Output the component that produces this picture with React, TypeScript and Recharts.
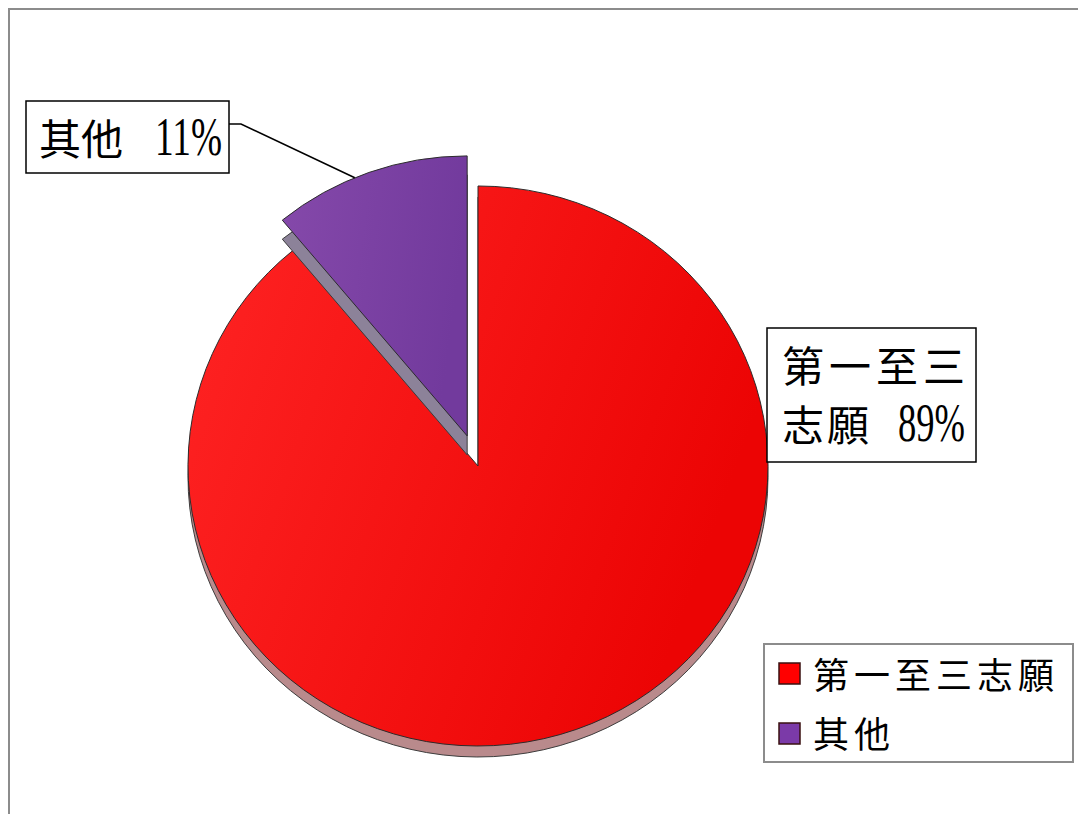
import { PieChart, Pie, Sector, Legend } from 'recharts';

// 資料
const categories = ['第一至三志願', '其他'];
const shares = [89, 11];
const pctLabels = ['89%', '11%'];
const topColors = ['url(#gradRed)', 'url(#gradPurple)'];
const sideColors = ['#b98a8c', '#8c8299'];
const legendColors = ['#ff0000', '#7b3aa8'];
const explode = [0, 32];
const depths = [11, 19];

const data = categories.map((name, i) => ({ name, value: shares[i] }));

const W = 1078;
const H = 814;
const RX = 290;
const RY = 280;
const K = RY / RX;
const RAD = Math.PI / 180;

const cjk = "'Noto Sans CJK TC', 'Noto Sans CJK SC', sans-serif";
const mixed = "'Liberation Serif', 'Noto Sans CJK TC', serif";

function Slice3D(props: any) {
  const { cx, cy, outerRadius, startAngle, endAngle, midAngle } = props;
  const i = props.index ?? categories.indexOf(props.name ?? props.payload?.name);
  const off = explode[i] ?? 0;
  const dx = off * Math.cos(midAngle * RAD);
  const dy = -off * Math.sin(midAngle * RAD);
  const squash = `translate(0, ${cy}) scale(1, ${K}) translate(0, ${-cy})`;
  return (
    <g transform={`translate(${dx}, ${dy})`}>
      <g transform={`translate(0, ${depths[i] ?? 11}) ${squash}`}>
        <Sector cx={cx} cy={cy} innerRadius={0} outerRadius={outerRadius}
          startAngle={startAngle} endAngle={endAngle}
          fill={sideColors[i]} stroke="#3a3a3a" strokeWidth={1} />
      </g>
      <g transform={squash}>
        <Sector cx={cx} cy={cy} innerRadius={0} outerRadius={outerRadius}
          startAngle={startAngle} endAngle={endAngle}
          fill={topColors[i]} stroke="#2a2a2a" strokeWidth={1} />
      </g>
    </g>
  );
}

function renderLabel(props: any) {
  const { cx, cy, midAngle, outerRadius } = props;
  const i = props.index ?? categories.indexOf(props.name);
  if (i === 1) {
    const off = explode[i];
    const a = (midAngle + 3) * RAD;
    const px = cx + off * Math.cos(midAngle * RAD) + outerRadius * Math.cos(a);
    const py = cy - off * Math.sin(midAngle * RAD) - outerRadius * K * Math.sin(a);
    return (
      <g>
        <polyline points={`229,124 241,124 ${px},${py}`} fill="none" stroke="#000" strokeWidth={1.5} />
        <rect x={26} y={101} width={203} height={72} fill="#fff" stroke="#000" strokeWidth={1.5} />
        <text x={39} y={155} fontFamily={mixed} fontSize={42} fill="#000">
          {categories[i]}
          <tspan x={155} fontSize={54} textLength={67} lengthAdjust="spacingAndGlyphs">{pctLabels[i]}</tspan>
        </text>
      </g>
    );
  }
  return (
    <g>
      <rect x={767} y={328} width={209} height={134} fill="#fff" stroke="#000" strokeWidth={1.5} />
      <text x={782} y={382} fontFamily={cjk} fontSize={42} letterSpacing={5} fill="#000">
        {categories[i].slice(0, 4)}
      </text>
      <text x={782} y={441} fontFamily={mixed} fontSize={42} fill="#000">
        <tspan letterSpacing={3}>{categories[i].slice(4)}</tspan>
        <tspan x={898} fontSize={54} textLength={67} lengthAdjust="spacingAndGlyphs">{pctLabels[i]}</tspan>
      </text>
    </g>
  );
}

function LegendBox() {
  return (
    <svg width={311} height={120} style={{ display: 'block' }}>
      <rect x={1} y={1} width={309} height={118} fill="#fff" stroke="#8c8c8c" strokeWidth={2} />
      {categories.map((c, i) => (
        <g key={c}>
          <rect x={16} y={20 + i * 60} width={21} height={21} fill={legendColors[i]} stroke="#3a1010" strokeWidth={1.5} />
          <text x={50} y={46 + i * 59} fontFamily={cjk} fontSize={36} letterSpacing={5} fill="#000">{c}</text>
        </g>
      ))}
    </svg>
  );
}

export default function App() {
  return (
    <div style={{ position: 'absolute', left: 0, top: 0, width: W, height: H, overflow: 'hidden', background: '#fff' }}>
      <div style={{ position: 'absolute', left: 8, top: 8, width: 1200, height: 1000, border: '2px solid #8c8c8c' }} />
      <div style={{ position: 'absolute', left: 0, top: 0 }}>
        <PieChart width={W} height={H} margin={{ top: 0, right: 0, bottom: 0, left: 0 }}>
          <defs>
            <linearGradient id="gradRed" x1="0" y1="0" x2="1" y2="0.35">
              <stop offset="0%" stopColor="#ff2424" />
              <stop offset="100%" stopColor="#ec0404" />
            </linearGradient>
            <linearGradient id="gradPurple" x1="0" y1="0" x2="1" y2="0.2">
              <stop offset="0%" stopColor="#8549aa" />
              <stop offset="100%" stopColor="#723a9d" />
            </linearGradient>
          </defs>
          <Pie
            data={data}
            dataKey="value"
            nameKey="name"
            cx={478}
            cy={466}
            outerRadius={RX}
            startAngle={90}
            endAngle={-270}
            stroke="none"
            shape={Slice3D}
            activeShape={Slice3D}
            inactiveShape={Slice3D}
            label={renderLabel}
            labelLine={false}
            isAnimationActive={false}
          />
          <Legend
            layout="vertical"
            align="right"
            verticalAlign="bottom"
            content={() => <LegendBox />}
            wrapperStyle={{ position: 'absolute', left: 763, top: 643, width: 311, height: 120 }}
          />
        </PieChart>
      </div>
    </div>
  );
}
